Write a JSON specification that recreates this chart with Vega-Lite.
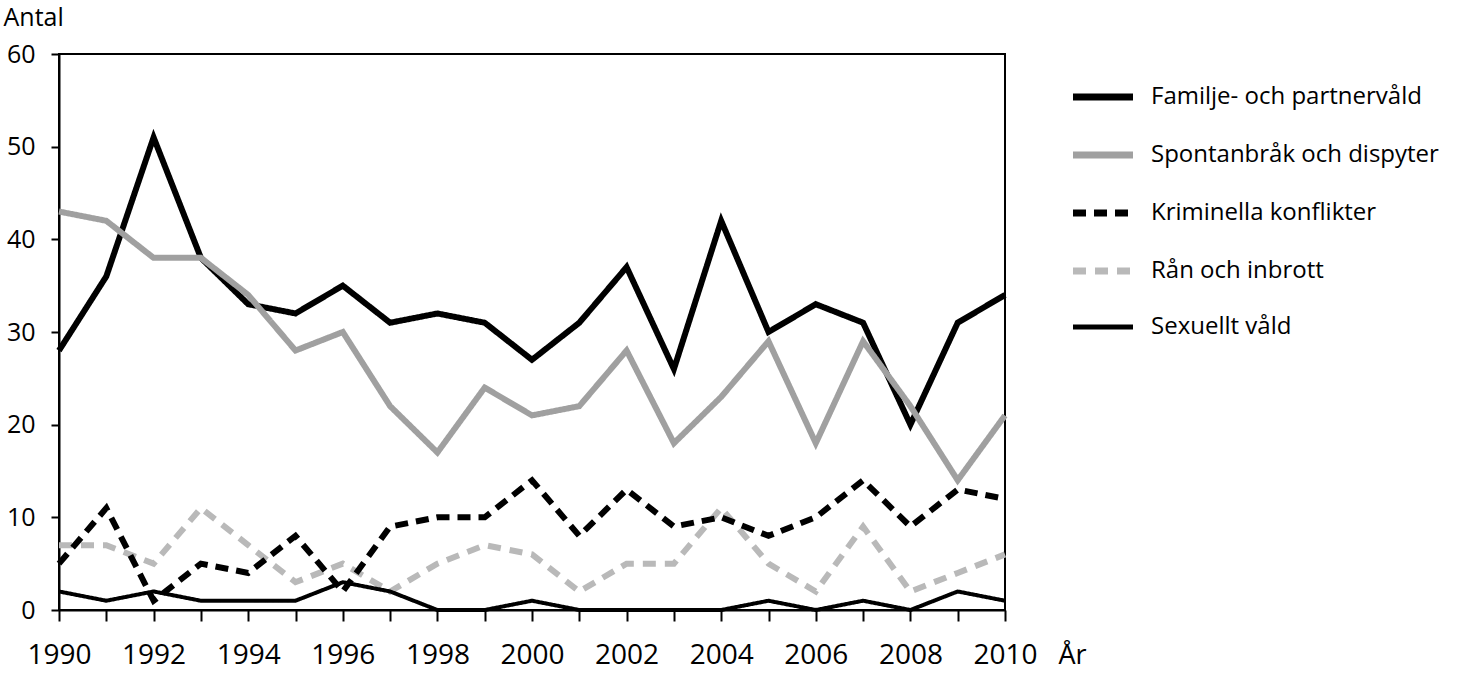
{
  "$schema": "https://vega.github.io/schema/vega-lite/v6.json",
  "width": 946,
  "height": 556,
  "autosize": {"type": "none"},
  "padding": {"left": 59, "top": 54, "right": 470, "bottom": 66},
  "background": "white",
  "config": {
    "font": "Open Sans",
    "view": {"stroke": "black", "strokeWidth": 2},
    "axis": {
      "domainColor": "black",
      "domainWidth": 2,
      "tickColor": "black",
      "tickWidth": 2,
      "labelColor": "black",
      "titleColor": "black",
      "grid": false,
      "titleFontWeight": "normal"
    },
    "legend": {
      "labelFont": "Open Sans",
      "labelFontSize": 24,
      "labelColor": "black",
      "labelLimit": 0
    }
  },
  "data": {
    "values": [
      {"år": 1990, "serie": "Familje- och partnervåld", "antal": 28},
      {"år": 1991, "serie": "Familje- och partnervåld", "antal": 36},
      {"år": 1992, "serie": "Familje- och partnervåld", "antal": 51},
      {"år": 1993, "serie": "Familje- och partnervåld", "antal": 38},
      {"år": 1994, "serie": "Familje- och partnervåld", "antal": 33},
      {"år": 1995, "serie": "Familje- och partnervåld", "antal": 32},
      {"år": 1996, "serie": "Familje- och partnervåld", "antal": 35},
      {"år": 1997, "serie": "Familje- och partnervåld", "antal": 31},
      {"år": 1998, "serie": "Familje- och partnervåld", "antal": 32},
      {"år": 1999, "serie": "Familje- och partnervåld", "antal": 31},
      {"år": 2000, "serie": "Familje- och partnervåld", "antal": 27},
      {"år": 2001, "serie": "Familje- och partnervåld", "antal": 31},
      {"år": 2002, "serie": "Familje- och partnervåld", "antal": 37},
      {"år": 2003, "serie": "Familje- och partnervåld", "antal": 26},
      {"år": 2004, "serie": "Familje- och partnervåld", "antal": 42},
      {"år": 2005, "serie": "Familje- och partnervåld", "antal": 30},
      {"år": 2006, "serie": "Familje- och partnervåld", "antal": 33},
      {"år": 2007, "serie": "Familje- och partnervåld", "antal": 31},
      {"år": 2008, "serie": "Familje- och partnervåld", "antal": 20},
      {"år": 2009, "serie": "Familje- och partnervåld", "antal": 31},
      {"år": 2010, "serie": "Familje- och partnervåld", "antal": 34},
      {"år": 1990, "serie": "Spontanbråk och dispyter", "antal": 43},
      {"år": 1991, "serie": "Spontanbråk och dispyter", "antal": 42},
      {"år": 1992, "serie": "Spontanbråk och dispyter", "antal": 38},
      {"år": 1993, "serie": "Spontanbråk och dispyter", "antal": 38},
      {"år": 1994, "serie": "Spontanbråk och dispyter", "antal": 34},
      {"år": 1995, "serie": "Spontanbråk och dispyter", "antal": 28},
      {"år": 1996, "serie": "Spontanbråk och dispyter", "antal": 30},
      {"år": 1997, "serie": "Spontanbråk och dispyter", "antal": 22},
      {"år": 1998, "serie": "Spontanbråk och dispyter", "antal": 17},
      {"år": 1999, "serie": "Spontanbråk och dispyter", "antal": 24},
      {"år": 2000, "serie": "Spontanbråk och dispyter", "antal": 21},
      {"år": 2001, "serie": "Spontanbråk och dispyter", "antal": 22},
      {"år": 2002, "serie": "Spontanbråk och dispyter", "antal": 28},
      {"år": 2003, "serie": "Spontanbråk och dispyter", "antal": 18},
      {"år": 2004, "serie": "Spontanbråk och dispyter", "antal": 23},
      {"år": 2005, "serie": "Spontanbråk och dispyter", "antal": 29},
      {"år": 2006, "serie": "Spontanbråk och dispyter", "antal": 18},
      {"år": 2007, "serie": "Spontanbråk och dispyter", "antal": 29},
      {"år": 2008, "serie": "Spontanbråk och dispyter", "antal": 22},
      {"år": 2009, "serie": "Spontanbråk och dispyter", "antal": 14},
      {"år": 2010, "serie": "Spontanbråk och dispyter", "antal": 21},
      {"år": 1990, "serie": "Rån och inbrott", "antal": 7},
      {"år": 1991, "serie": "Rån och inbrott", "antal": 7},
      {"år": 1992, "serie": "Rån och inbrott", "antal": 5},
      {"år": 1993, "serie": "Rån och inbrott", "antal": 11},
      {"år": 1994, "serie": "Rån och inbrott", "antal": 7},
      {"år": 1995, "serie": "Rån och inbrott", "antal": 3},
      {"år": 1996, "serie": "Rån och inbrott", "antal": 5},
      {"år": 1997, "serie": "Rån och inbrott", "antal": 2},
      {"år": 1998, "serie": "Rån och inbrott", "antal": 5},
      {"år": 1999, "serie": "Rån och inbrott", "antal": 7},
      {"år": 2000, "serie": "Rån och inbrott", "antal": 6},
      {"år": 2001, "serie": "Rån och inbrott", "antal": 2},
      {"år": 2002, "serie": "Rån och inbrott", "antal": 5},
      {"år": 2003, "serie": "Rån och inbrott", "antal": 5},
      {"år": 2004, "serie": "Rån och inbrott", "antal": 11},
      {"år": 2005, "serie": "Rån och inbrott", "antal": 5},
      {"år": 2006, "serie": "Rån och inbrott", "antal": 2},
      {"år": 2007, "serie": "Rån och inbrott", "antal": 9},
      {"år": 2008, "serie": "Rån och inbrott", "antal": 2},
      {"år": 2009, "serie": "Rån och inbrott", "antal": 4},
      {"år": 2010, "serie": "Rån och inbrott", "antal": 6},
      {"år": 1990, "serie": "Kriminella konflikter", "antal": 5},
      {"år": 1991, "serie": "Kriminella konflikter", "antal": 11},
      {"år": 1992, "serie": "Kriminella konflikter", "antal": 1},
      {"år": 1993, "serie": "Kriminella konflikter", "antal": 5},
      {"år": 1994, "serie": "Kriminella konflikter", "antal": 4},
      {"år": 1995, "serie": "Kriminella konflikter", "antal": 8},
      {"år": 1996, "serie": "Kriminella konflikter", "antal": 2},
      {"år": 1997, "serie": "Kriminella konflikter", "antal": 9},
      {"år": 1998, "serie": "Kriminella konflikter", "antal": 10},
      {"år": 1999, "serie": "Kriminella konflikter", "antal": 10},
      {"år": 2000, "serie": "Kriminella konflikter", "antal": 14},
      {"år": 2001, "serie": "Kriminella konflikter", "antal": 8},
      {"år": 2002, "serie": "Kriminella konflikter", "antal": 13},
      {"år": 2003, "serie": "Kriminella konflikter", "antal": 9},
      {"år": 2004, "serie": "Kriminella konflikter", "antal": 10},
      {"år": 2005, "serie": "Kriminella konflikter", "antal": 8},
      {"år": 2006, "serie": "Kriminella konflikter", "antal": 10},
      {"år": 2007, "serie": "Kriminella konflikter", "antal": 14},
      {"år": 2008, "serie": "Kriminella konflikter", "antal": 9},
      {"år": 2009, "serie": "Kriminella konflikter", "antal": 13},
      {"år": 2010, "serie": "Kriminella konflikter", "antal": 12},
      {"år": 1990, "serie": "Sexuellt våld", "antal": 2},
      {"år": 1991, "serie": "Sexuellt våld", "antal": 1},
      {"år": 1992, "serie": "Sexuellt våld", "antal": 2},
      {"år": 1993, "serie": "Sexuellt våld", "antal": 1},
      {"år": 1994, "serie": "Sexuellt våld", "antal": 1},
      {"år": 1995, "serie": "Sexuellt våld", "antal": 1},
      {"år": 1996, "serie": "Sexuellt våld", "antal": 3},
      {"år": 1997, "serie": "Sexuellt våld", "antal": 2},
      {"år": 1998, "serie": "Sexuellt våld", "antal": 0},
      {"år": 1999, "serie": "Sexuellt våld", "antal": 0},
      {"år": 2000, "serie": "Sexuellt våld", "antal": 1},
      {"år": 2001, "serie": "Sexuellt våld", "antal": 0},
      {"år": 2002, "serie": "Sexuellt våld", "antal": 0},
      {"år": 2003, "serie": "Sexuellt våld", "antal": 0},
      {"år": 2004, "serie": "Sexuellt våld", "antal": 0},
      {"år": 2005, "serie": "Sexuellt våld", "antal": 1},
      {"år": 2006, "serie": "Sexuellt våld", "antal": 0},
      {"år": 2007, "serie": "Sexuellt våld", "antal": 1},
      {"år": 2008, "serie": "Sexuellt våld", "antal": 0},
      {"år": 2009, "serie": "Sexuellt våld", "antal": 2},
      {"år": 2010, "serie": "Sexuellt våld", "antal": 1}
    ]
  },
  "mark": {
    "type": "line",
    "strokeJoin": "miter",
    "strokeCap": "butt",
    "clip": false
  },
  "encoding": {
    "x": {
      "field": "år",
      "type": "quantitative",
      "scale": {"domain": [1990, 2010], "nice": false, "zero": false},
      "axis": {
        "values": [1990, 1991, 1992, 1993, 1994, 1995, 1996, 1997, 1998, 1999, 2000, 2001, 2002, 2003, 2004, 2005, 2006, 2007, 2008, 2009, 2010],
        "labelExpr": "datum.value % 2 === 0 ? format(datum.value, 'd') : ''",
        "labelOverlap": false,
        "labelFlush": false,
        "labelFontSize": 28,
        "labelPadding": 20,
        "labelDx": -3,
        "tickSize": 11,
        "title": "År",
        "titleFontSize": 27,
        "titleAngle": 0,
        "titleAlign": "left",
        "titleBaseline": "alphabetic",
        "titleX": 999,
        "titleY": 53
      }
    },
    "y": {
      "field": "antal",
      "type": "quantitative",
      "scale": {"domain": [0, 60], "nice": false},
      "axis": {
        "values": [0, 10, 20, 30, 40, 50, 60],
        "labelFontSize": 25,
        "labelPadding": 16,
        "tickSize": 8,
        "title": "Antal",
        "titleFontSize": 25,
        "titleAngle": 0,
        "titleAlign": "left",
        "titleBaseline": "alphabetic",
        "titleX": -56,
        "titleY": -29
      }
    },
    "color": {
      "field": "serie",
      "type": "nominal",
      "scale": {
        "domain": ["Familje- och partnervåld", "Spontanbråk och dispyter", "Kriminella konflikter", "Rån och inbrott", "Sexuellt våld"],
        "range": ["#000000", "#a0a0a0", "#000000", "#b9b9b9", "#000000"]
      },
      "legend": {
        "title": null,
        "orient": "none",
        "legendX": 1032,
        "legendY": 31,
        "symbolType": "stroke",
        "symbolSize": 3600,
        "symbolStrokeWidth": 7,
        "labelOffset": 36,
        "rowPadding": 30,
        "encode": {
          "symbols": {
            "update": {
              "strokeWidth": {"signal": "datum.label === 'Sexuellt våld' ? 5 : 7"}
            }
          }
        }
      }
    },
    "strokeDash": {
      "field": "serie",
      "type": "nominal",
      "scale": {
        "domain": ["Familje- och partnervåld", "Spontanbråk och dispyter", "Kriminella konflikter", "Rån och inbrott", "Sexuellt våld"],
        "range": [[1, 0], [1, 0], [13, 8], [13, 9], [1, 0]]
      },
      "legend": {
        "title": null,
        "orient": "none",
        "legendX": 1032,
        "legendY": 31,
        "symbolType": "stroke",
        "symbolSize": 3600,
        "symbolStrokeWidth": 7,
        "labelOffset": 36,
        "rowPadding": 30,
        "encode": {
          "symbols": {
            "update": {
              "strokeWidth": {"signal": "datum.label === 'Sexuellt våld' ? 5 : 7"}
            }
          }
        }
      }
    },
    "strokeWidth": {
      "condition": {"test": "datum.serie === 'Sexuellt våld'", "value": 4},
      "value": 6
    }
  }
}
